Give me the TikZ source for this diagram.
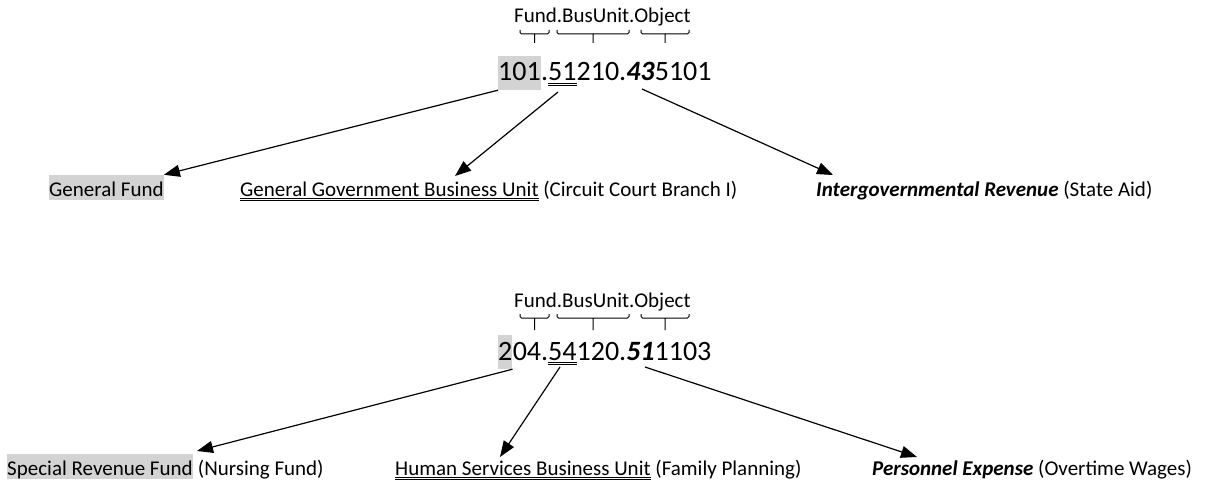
\documentclass[tikz,border=0pt]{standalone}
\usepackage{fontspec}
\setmainfont{Carlito}
\usetikzlibrary{arrows.meta}

\definecolor{hlgray}{RGB}{211,211,211}

% double underline
\newcommand{\dblul}[1]{\leavevmode\vtop{\setbox0\hbox{#1}\dp0=0pt\box0
    \kern1.6pt\hrule height 0.9pt\kern1.4pt\hrule height 0.9pt}}

\tikzset{
  code/.style={anchor=base west, inner sep=0pt, font=\fontsize{28}{32}\selectfont},
  hdr/.style={anchor=base west, inner sep=0pt, font=\fontsize{21}{25}\selectfont},
  lbl/.style={anchor=base west, inner sep=0pt, font=\fontsize{21}{25}\selectfont},
  hlcode/.style={fill=hlgray, text height=25pt, text depth=9pt},
  hllbl/.style={fill=hlgray, text height=21pt, text depth=4pt},
  brace/.style={line width=1pt, rounded corners=1.5pt},
  link/.style={-{Triangle[length=16pt,width=12pt]}, line width=1.2pt}
}

\begin{document}
\begin{tikzpicture}[x=1pt, y=-1pt]
    \useasboundingbox (0,0) rectangle (1207,487);

    % Block 1 {header, braces, code}
    \node [hdr]          (head1) at (514,23)  {Fund.BusUnit.Object};
    \foreach \a/\b in {520/549, 557/629, 641/689}
        \draw [brace] (\a,30) -- (\a,34) -- (\b,34) -- (\b,30)
                      ({(\a+\b)/2},34) -- ({(\a+\b)/2},43);
    \node [code, hlcode] (fund1) at (498,81)  {101};
    \node [code]         (rest1) at (fund1.base east)
          {.\dblul{51}210.\textbf{\textit{43}}5101};
    \coordinate (bu1)  at (558,92);
    \coordinate (obj1) at (642,89);

    % Block 1 labels
    \node [lbl, hllbl]   (genfund) at (49,196)  {General Fund};
    \node [lbl]          (genbu)   at (240,196) {\dblul{General Government Business Unit} (Circuit Court Branch I)};
    \node [lbl]          (intrev)  at (816,196) {\textbf{\textit{Intergovernmental Revenue}} (State Aid)};
    \coordinate (genbutip)  at (455,176);
    \coordinate (intrevtip) at (833,175);

    % Block 2 {header, braces, code}
    \node [hdr]          (head2) at (514,307) {Fund.BusUnit.Object};
    \foreach \a/\b in {520/549, 557/629, 641/689}
        \draw [brace] (\a,314) -- (\a,318) -- (\b,318) -- (\b,314)
                      ({(\a+\b)/2},318) -- ({(\a+\b)/2},330);
    \node [code, hlcode] (fund2) at (498,360) {2};
    \node [code]         (rest2) at (fund2.base east)
          {04.\dblul{54}120.\textbf{\textit{51}}1103};
    \coordinate (bu2)  at (560,367);
    \coordinate (obj2) at (645,367);

    % Block 2 labels
    \node [lbl, hllbl]   (specfund) at (7,475)  {Special Revenue Fund};
    \node [lbl]          (nursing)  at (specfund.base east) {\ (Nursing Fund)};
    \node [lbl]          (humbu)    at (395,475) {\dblul{Human Services Business Unit} (Family Planning)};
    \node [lbl]          (persexp)  at (872,475) {\textbf{\textit{Personnel Expense}} (Overtime Wages)};
    \coordinate (specfundtip) at (197,451);
    \coordinate (humbutip)    at (500,457);
    \coordinate (persexptip)  at (917,457);

    % Paths
    \draw [link] (fund1.south west) -- (genfund.north east);
    \draw [link] (bu1)              -- (genbutip);
    \draw [link] (obj1)             -- (intrevtip);
    \draw [link] (fund2.south east) -- (specfundtip);
    \draw [link] (bu2)              -- (humbutip);
    \draw [link] (obj2)             -- (persexptip);
\end{tikzpicture}
\end{document}
